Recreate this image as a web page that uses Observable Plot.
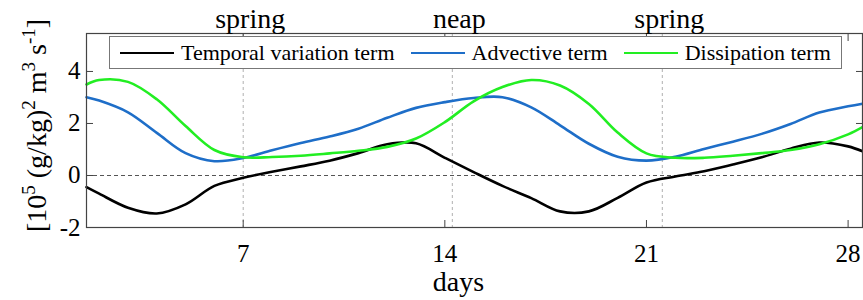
<!DOCTYPE html>
<html><head><meta charset="utf-8">
<script src="https://cdn.jsdelivr.net/npm/d3@7"></script>
<script src="https://cdn.jsdelivr.net/npm/@observablehq/plot@0.6"></script>
<style>
html,body{margin:0;padding:0;background:#fff;}
#wrap{position:relative;width:863px;height:300px;font-family:"Liberation Serif","Times New Roman",serif;}
#legend{position:absolute;left:109px;top:36px;width:733px;height:33px;border:1.5px solid #777;background:#fff;display:flex;align-items:center;box-sizing:border-box;padding-left:10px;}
.item{display:flex;align-items:center;font-size:22px;color:#000;margin-right:16px;white-space:nowrap;}
.sw{width:54px;height:0;border-top:2.5px solid;margin-right:7px;}
</style></head><body>
<div id="wrap"><div id="legend"></div></div>
<script>
const days = [1.56, 2, 3, 4, 5, 6, 7, 8, 9, 10, 11, 12, 13, 14, 15, 16, 17, 18, 19, 20, 21, 22, 23, 24, 25, 26, 27, 28, 28.5];
const temporal = [-0.45, -0.70, -1.24, -1.46, -1.11, -0.40, -0.09, 0.14, 0.35, 0.57, 0.86, 1.20, 1.24, 0.68, 0.13, -0.40, -0.87, -1.38, -1.38, -0.86, -0.27, -0.04, 0.16, 0.42, 0.70, 1.03, 1.27, 1.12, 0.93];
const advective = [3.01, 2.88, 2.43, 1.64, 0.86, 0.55, 0.67, 0.97, 1.25, 1.50, 1.80, 2.22, 2.60, 2.82, 2.98, 3.01, 2.62, 1.93, 1.22, 0.72, 0.57, 0.72, 1.02, 1.30, 1.60, 1.98, 2.42, 2.66, 2.76];
const dissipation = [3.50, 3.67, 3.60, 2.93, 1.90, 0.98, 0.70, 0.71, 0.76, 0.85, 0.95, 1.10, 1.42, 2.05, 2.85, 3.40, 3.67, 3.46, 2.75, 1.65, 0.85, 0.68, 0.68, 0.76, 0.86, 0.98, 1.20, 1.58, 1.86];
const seriesNames = ["Temporal variation term", "Advective term", "Dissipation term"];
const seriesColors = ["#000000", "#1e6ec8", "#22ee22"];
const xTicks = [7, 14, 21, 28];
const yTicks = [-2, 0, 2, 4];
const eventLabels = ["spring", "neap", "spring"];
const eventDays = [7, 14.26, 21.55];
const xLabel = "days";

const seriesValues = [temporal, advective, dissipation];
const table = [];
seriesNames.forEach((name, s) => days.forEach((d, i) => table.push({day: d, value: seriesValues[s][i], series: name})));
const events = eventLabels.map((label, i) => ({label, day: eventDays[i]}));

const font = "Liberation Serif, Times New Roman, serif";
const chart = Plot.plot({
  width: 863, height: 300,
  marginLeft: 86, marginRight: 1, marginTop: 33, marginBottom: 73,
  style: {fontFamily: font, fontSize: "25px", color: "#000", background: "#fff"},
  x: {domain: [1.56, 28.5]},
  y: {domain: [-2, 5.46]},
  color: {domain: seriesNames, range: seriesColors},
  marks: [
    Plot.ruleX(eventDays, {stroke: "#b0b0b0", strokeWidth: 1, strokeDasharray: "3,3"}),
    Plot.ruleY([0], {stroke: "#555", strokeWidth: 1.2, strokeDasharray: "4,3"}),
    ...seriesNames.map(name => Plot.line(table.filter(d => d.series === name), {x: "day", y: "value", stroke: "series", strokeWidth: 2.6, curve: "catmull-rom"})),
    Plot.axisX(xTicks, {anchor: "bottom", tickSize: -7, tickPadding: 24, stroke: "#444", fontSize: 25, tickFormat: d => String(d), label: null}),
    Plot.axisX(xTicks, {anchor: "top", tickSize: -7, stroke: "#444", tickFormat: () => "", label: null}),
    Plot.axisY(yTicks, {anchor: "left", tickSize: -7, tickPadding: 13, stroke: "#444", fontSize: 25, tickFormat: d => String(d), label: null}),
    Plot.axisY(yTicks, {anchor: "right", tickSize: -7, stroke: "#444", tickFormat: () => "", label: null}),
    Plot.frame({stroke: "#444", strokeWidth: 1.2}),
    Plot.text(events, {x: "day", text: "label", frameAnchor: "top", lineAnchor: "bottom", dy: -6, dx: 7, fontSize: 28, fill: "#000"}),
    Plot.text([xLabel], {frameAnchor: "bottom", lineAnchor: "top", dy: 44, dx: -16, fontSize: 28, fill: "#000"})
  ]
});
chart.querySelectorAll("text").forEach(t => { if (t.textContent === "") t.remove(); });

// y-axis label with superscripts
const svg = d3.select(chart);
const yl = svg.append("text")
  .attr("transform", "translate(46,125.5) rotate(-90)")
  .attr("text-anchor", "middle")
  .attr("font-family", font)
  .attr("font-size", 28)
  .attr("fill", "#000");
const parts = [["[10", 0], ["5", 1], [" (g/kg)", 0], ["2", 1], [" m", 0], ["3", 1], [" s", 0], ["-1", 1], ["]", 0]];
let raised = false;
parts.forEach(([txt, sup]) => {
  const ts = yl.append("tspan").text(txt);
  if (sup && !raised) { ts.attr("dy", -11).attr("font-size", 19); raised = true; }
  else if (sup) { ts.attr("font-size", 19); }
  else if (!sup && raised) { ts.attr("dy", 11); raised = false; }
});

document.getElementById("wrap").prepend(chart);

const legend = document.getElementById("legend");
seriesNames.forEach((name, i) => {
  const item = document.createElement("div");
  item.className = "item";
  const sw = document.createElement("span");
  sw.className = "sw";
  sw.style.borderTopColor = seriesColors[i];
  const lab = document.createElement("span");
  lab.textContent = name;
  item.append(sw, lab);
  legend.append(item);
});
</script>
</body></html>
